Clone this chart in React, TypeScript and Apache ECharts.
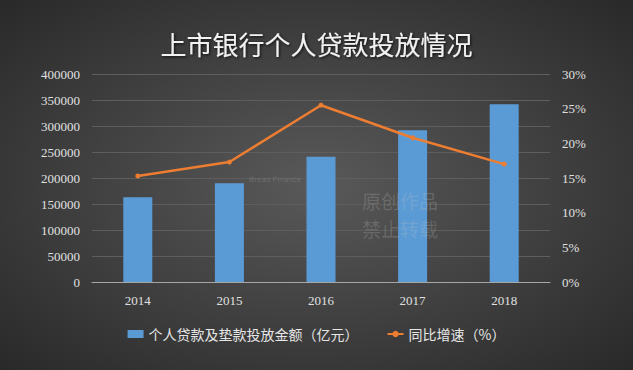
import React, { useEffect, useRef } from "react";
import * as echarts from "echarts";

const years = ["2014", "2015", "2016", "2017", "2018"];
const loanAmounts = [163000, 190000, 241000, 292000, 342000];
const growthRates = [15.3, 17.3, 25.5, 20.8, 17.0];
const title = "上市银行个人贷款投放情况";
const barName = "个人贷款及垫款投放金额（亿元）";
const lineName = "同比增速（%）";

export default function App() {
  const ref = useRef<HTMLDivElement>(null);
  useEffect(() => {
    const chart = echarts.init(ref.current!, null, { renderer: "svg" });
    const serif = "'Liberation Serif', 'DejaVu Serif', serif";
    const wm = "rgba(200,200,200,0.22)";
    chart.setOption({
      animation: false,
      backgroundColor: {
        type: "radial",
        x: 0.5,
        y: 0.5,
        r: 0.75,
        colorStops: [
          { offset: 0, color: "#595959" },
          { offset: 1, color: "#262626" },
        ],
      },
      title: {
        text: title,
        left: "center",
        top: 25,
        textStyle: {
          color: "#f2f2f2",
          fontSize: 26,
          fontWeight: "normal",
          fontFamily: "'Noto Sans CJK SC', sans-serif",
          textShadowColor: "rgba(0,0,0,0.8)",
          textShadowBlur: 3,
          textShadowOffsetX: 1,
          textShadowOffsetY: 1,
        },
      },
      legend: {
        bottom: 24,
        left: "center",
        itemGap: 28,
        itemWidth: 16,
        itemHeight: 8,
        textStyle: {
          color: "#e6e6e6",
          fontSize: 14,
          fontFamily: "'Noto Sans CJK SC', sans-serif",
        },
        data: [
          { name: barName, icon: "rect" },
          { name: lineName },
        ],
      },
      grid: { left: 92, right: 83, top: 74, bottom: 88, containLabel: false },
      xAxis: {
        type: "category",
        data: years,
        axisLine: { lineStyle: { color: "#a6a6a6", width: 1 } },
        axisTick: { show: false },
        axisLabel: { color: "#e0e0e0", fontSize: 13, fontFamily: serif, margin: 12 },
      },
      yAxis: [
        {
          type: "value",
          min: 0,
          max: 400000,
          interval: 50000,
          axisLine: { show: false },
          axisTick: { show: false },
          axisLabel: {
            color: "#e0e0e0",
            fontSize: 13,
            fontFamily: serif,
            margin: 12,
            formatter: (v: number) => String(v),
          },
          splitLine: { lineStyle: { color: "#5e5e5e", width: 1 } },
        },
        {
          type: "value",
          min: 0,
          max: 30,
          interval: 5,
          axisLine: { show: false },
          axisTick: { show: false },
          axisLabel: {
            color: "#e0e0e0",
            fontSize: 13,
            fontFamily: serif,
            margin: 12,
            formatter: "{value}%",
          },
          splitLine: { show: false },
        },
      ],
      graphic: [
        {
          type: "text",
          left: 249,
          top: 175,
          style: { text: "Bread Finance", fill: wm, font: "8px sans-serif" },
          z: 100,
        },
        {
          type: "text",
          left: 362,
          top: 191,
          style: { text: "原创作品", fill: wm, font: "19px 'Noto Sans CJK SC'" },
          z: 100,
        },
        {
          type: "text",
          left: 362,
          top: 219,
          style: { text: "禁止转载", fill: wm, font: "19px 'Noto Sans CJK SC'" },
          z: 100,
        },
      ],
      series: [
        {
          name: barName,
          type: "bar",
          data: loanAmounts,
          barWidth: 29,
          itemStyle: { color: "#5b9bd5" },
        },
        {
          name: lineName,
          type: "line",
          yAxisIndex: 1,
          data: growthRates,
          symbol: "circle",
          symbolSize: 5,
          lineStyle: { color: "#ed7d31", width: 2.5 },
          itemStyle: { color: "#ed7d31" },
        },
      ],
    });
    return () => chart.dispose();
  }, []);
  return (
    <div
      ref={ref}
      style={{ position: "absolute", left: 0, top: 0, width: 633, height: 370 }}
    />
  );
}
